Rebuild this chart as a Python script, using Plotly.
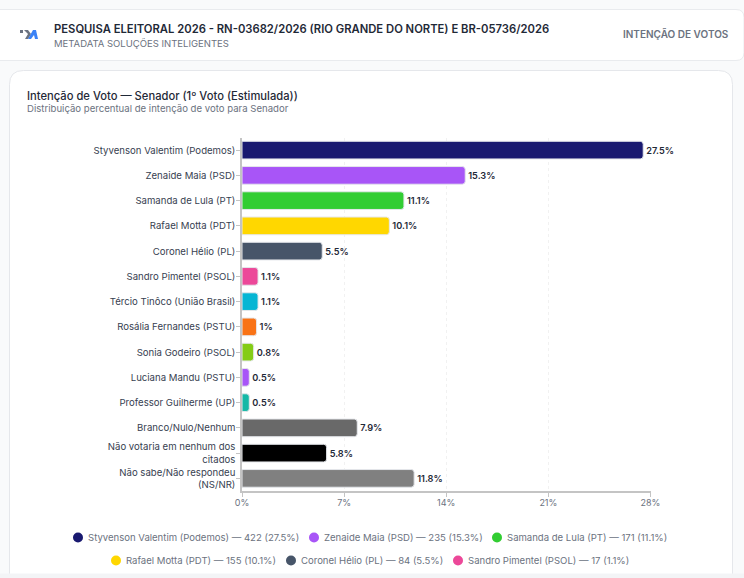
import plotly.graph_objects as go

candidatos = ["Styvenson Valentim (Podemos)", "Zenaide Maia (PSD)", "Samanda de Lula (PT)", "Rafael Motta (PDT)",
              "Coronel Hélio (PL)", "Sandro Pimentel (PSOL)", "Tércio Tinôco (União Brasil)", "Rosália Fernandes (PSTU)",
              "Sonia Godeiro (PSOL)", "Luciana Mandu (PSTU)", "Professor Guilherme (UP)", "Branco/Nulo/Nenhum",
              "Não votaria em nenhum dos<br>citados", "Não sabe/Não respondeu<br>(NS/NR)"]
percentuais = [27.5, 15.3, 11.1, 10.1, 5.5, 1.1, 1.1, 1, 0.8, 0.5, 0.5, 7.9, 5.8, 11.8]
cores = ["#191970", "#a855f7", "#32cd32", "#ffd700", "#475569", "#ec4899", "#06b6d4", "#f97316",
         "#84cc16", "#a855f7", "#14b8a6", "#696969", "#000000", "#808080"]
ticks_x = [0, 7, 14, 21, 28]
legenda_votos = [422, 235, 171, 155, 84, 17]
legenda_pos = [(78, 537.5), (314, 537.5), (497, 537.5), (116, 560.5), (291, 560.5), (458, 560.5)]

W, H = 744, 578
FONTE = "Inter, 'Noto Sans', sans-serif"


def px(x):
    return x / W


def py(y):
    return 1 - y / H


def caixa(x0, y0, x1, y1, fill, line=None, r=0):
    # retangulo com cantos arredondados, em pixels da pagina
    path = (f"M {px(x0 + r)} {py(y0)} L {px(x1 - r)} {py(y0)} Q {px(x1)} {py(y0)} {px(x1)} {py(y0 + r)} "
            f"L {px(x1)} {py(y1 - r)} Q {px(x1)} {py(y1)} {px(x1 - r)} {py(y1)} "
            f"L {px(x0 + r)} {py(y1)} Q {px(x0)} {py(y1)} {px(x0)} {py(y1 - r)} "
            f"L {px(x0)} {py(y0 + r)} Q {px(x0)} {py(y0)} {px(x0 + r)} {py(y0)} Z")
    return dict(type="path", xref="paper", yref="paper", path=path, fillcolor=fill,
                line=dict(color=line or fill, width=1), layer="below")


def texto(x, y, s, size, color, anchor="left", weight=None):
    # anotacao tem uma folga de 2px em volta do texto
    return dict(x=px(x), y=py(y), xref="paper", yref="paper", text=s, showarrow=False,
                xanchor=anchor, yanchor="middle", align=anchor, xshift=2 if anchor == "right" else -2,
                font=dict(family=FONTE, size=size, color=color, weight=weight))


fig = go.Figure(go.Bar(
    x=percentuais, y=candidatos, orientation="h",
    marker=dict(color=cores, line=dict(color="#e5e7eb", width=1), cornerradius=3),
    width=0.7,
    text=[f"{v:g}%" for v in percentuais], textposition="outside", cliponaxis=False,
    textfont=dict(family=FONTE, size=9.2, color="#1f2937", weight=600),
))

shapes = [
    caixa(-10, 9.5, 744, 60.5, "#ffffff", "#e9ebee", 8),
    caixa(9.5, 70.5, 732.5, 600, "#ffffff", "#e5e7eb", 14),
    caixa(-2, 574, 746, 580, "#f3f4f6"),
]
# logo
shapes += [
    dict(type="path", xref="paper", yref="paper", layer="below", fillcolor=c, line=dict(width=0),
         path="M " + " L ".join(f"{px(a)} {py(b)}" for a, b in pts) + " Z")
    for c, pts in [
        ("#6b7280", [(20, 30), (23, 30), (23, 33), (20, 33)]),
        ("#6b7280", [(24, 30), (28, 30), (31, 34), (28, 39), (25, 39), (28, 34)]),
        ("#3b82f6", [(28, 39), (33, 30), (36, 30), (38, 39), (35, 39), (34, 35), (31, 39)]),
    ]
]

anots = [
    texto(54, 28.5, "PESQUISA ELEITORAL 2026 - RN-03682/2026 (RIO GRANDE DO NORTE) E BR-05736/2026", 11.25, "#1f2937", weight=600),
    texto(54, 43, "METADATA SOLUÇÕES INTELIGENTES", 9.5, "#6b7280"),
    texto(729, 33.5, "INTENÇÃO DE VOTOS", 10, "#6b7280", "right", 600),
    texto(26.5, 95.5, "Intenção de Voto — Senador (1º Voto (Estimulada))", 11.2, "#1f2937", weight=500),
    texto(26.5, 108.5, "Distribuição percentual de intenção de voto para Senador", 9.6, "#6b7280"),
]
for i, (cx, cy) in enumerate(legenda_pos):
    shapes.append(dict(type="circle", xref="paper", yref="paper", fillcolor=cores[i], line=dict(width=0),
                       x0=px(cx - 5), x1=px(cx + 5), y0=py(cy + 5), y1=py(cy - 5)))
    anots.append(texto(cx + 10, cy, f"{candidatos[i]} — {legenda_votos[i]} ({percentuais[i]}%)", 9.55, "#6b7280"))

fig.update_layout(
    width=W, height=H, autosize=False, showlegend=False,
    margin=dict(l=0, r=0, t=0, b=0),
    paper_bgcolor="#f9fafb", plot_bgcolor="rgba(0,0,0,0)",
    font=dict(family=FONTE),
    bargap=0.3,
    shapes=shapes, annotations=anots,
    xaxis=dict(domain=[242 / W, 650.5 / W], range=[0, 28], tickvals=ticks_x, ticktext=[f"{t}%" for t in ticks_x],
               automargin=False, ticklabelstandoff=-2,
               showline=True, linecolor="#c4c4c4", linewidth=1.5, ticks="outside", ticklen=4, tickcolor="#c4c4c4",
               showgrid=True, gridcolor="#f1f1f1", griddash="dot", zeroline=False,
               tickfont=dict(family=FONTE, size=9, color="#6b7280"), anchor="y"),
    yaxis=dict(domain=[1 - 491 / H, 1 - 137.5 / H], autorange="reversed", showline=True, linecolor="#c4c4c4",
               automargin=False, ticklabelstandoff=-1,
               linewidth=1.5, ticks="outside", ticklen=4, tickcolor="#c4c4c4", showgrid=False,
               tickfont=dict(family=FONTE, size=9.6, color="#374151"), anchor="x"),
)

# o body do html tem margem de 8px por padrao
fig.write_html("out.html", config=dict(displayModeBar=False),
               post_script="document.body.style.margin='0';document.body.style.overflow='hidden';")
